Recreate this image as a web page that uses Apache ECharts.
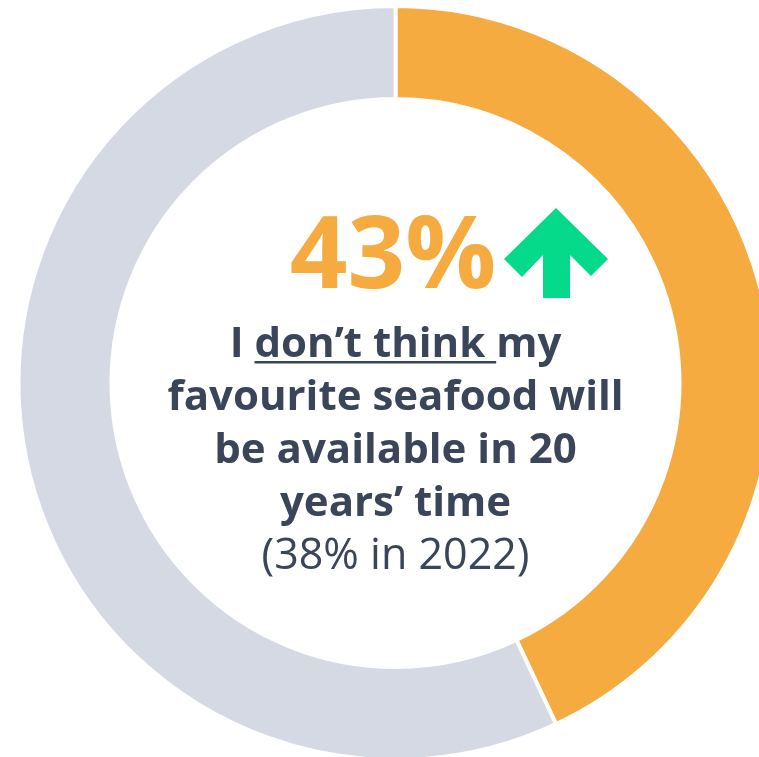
<!DOCTYPE html>
<html>
<head>
<meta charset="utf-8">
<script src="https://cdn.jsdelivr.net/npm/echarts@6/dist/echarts.min.js"></script>
<style>
html,body{margin:0;padding:0;background:#fff;}
#chart{width:759px;height:757px;}
</style>
</head>
<body>
<div id="chart"></div>
<script>
// Data
const categories = ["Don't think favourite seafood will be available in 20 years", "Other"];
const values = [43, 57];
const colors = ['#F5AB40', '#D5D9E4'];
const headline = '43%';
const lineParts = ['I ', 'don\u2019t think ', 'my'];
const bodyLines = ['favourite seafood will', 'be available in 20', 'years\u2019 time'];
const footnote = '(38% in 2022)';

const FONT = '"Open Sans", "Noto Sans", sans-serif';
const TEXT_COLOR = '#3B4559';
const cx = 395.5, cy = 383;

const chart = echarts.init(document.getElementById('chart'), null, {renderer: 'canvas'});

// measure text for underline placement
const mctx = document.createElement('canvas').getContext('2d');
const fs = 42;
mctx.font = 'bold ' + fs + 'px ' + FONT;
const w0 = mctx.measureText(lineParts[0]).width;
const w1 = mctx.measureText(lineParts[1]).width;
const w2 = mctx.measureText(lineParts[2]).width;
const totalW = w0 + w1 + w2;
const line1Left = cx - totalW / 2;
const line1Y = 345;
const lineH = 53;

const graphics = [
  {
    type: 'text', x: 393, y: 259,
    style: {text: headline, fill: '#F5AB40', font: 'bold 101px ' + FONT, textAlign: 'center', textVerticalAlign: 'middle'}
  },
  {
    type: 'polygon',
    shape: {points: [[556,208],[608,259],[591,276],[570,255],[570,298],[543,298],[543,255],[522,277],[504,259]]},
    style: {fill: '#05D98A'}
  },
  {
    type: 'text', x: cx, y: line1Y,
    style: {text: lineParts.join(''), fill: TEXT_COLOR, font: 'bold ' + fs + 'px ' + FONT, textAlign: 'center', textVerticalAlign: 'middle'}
  },
  {
    type: 'rect',
    shape: {x: line1Left + w0, y: line1Y + 16, width: w1, height: 2.5},
    style: {fill: TEXT_COLOR}
  }
];
bodyLines.forEach((t, i) => {
  graphics.push({
    type: 'text', x: cx, y: line1Y + lineH * (i + 1),
    style: {text: t, fill: TEXT_COLOR, font: 'bold ' + fs + 'px ' + FONT, textAlign: 'center', textVerticalAlign: 'middle'}
  });
});
graphics.push({
  type: 'text', x: cx, y: 557,
  style: {text: footnote, fill: TEXT_COLOR, font: '43px ' + FONT, textAlign: 'center', textVerticalAlign: 'middle'}
});

chart.setOption({
  animation: false,
  backgroundColor: '#ffffff',
  series: [{
    type: 'pie',
    silent: true,
    center: [cx, cy],
    radius: [284, 377],
    startAngle: 90,
    clockwise: true,
    label: {show: false},
    labelLine: {show: false},
    itemStyle: {borderColor: '#ffffff', borderWidth: 4},
    data: categories.map((c, i) => ({name: c, value: values[i], itemStyle: {color: colors[i]}}))
  }],
  graphic: graphics
});
</script>
</body>
</html>
